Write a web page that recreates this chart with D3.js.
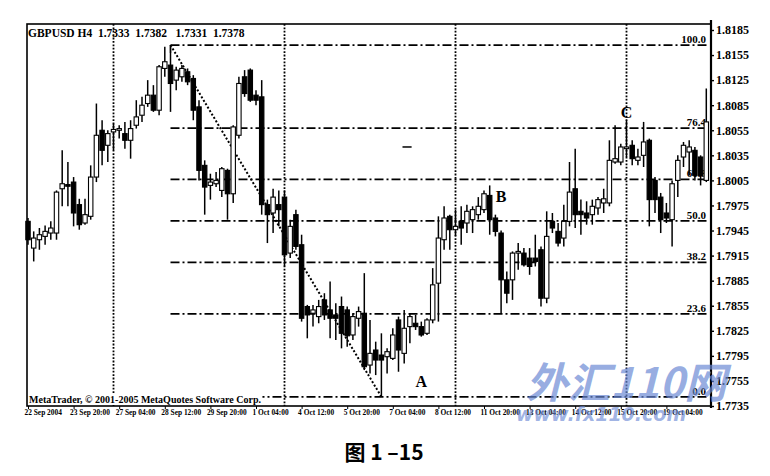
<!DOCTYPE html>
<html><head><meta charset="utf-8">
<script src="https://cdn.jsdelivr.net/npm/d3@7"></script>
<style>body{margin:0;background:#fff}svg{display:block}</style>
</head><body>
<svg id="c" width="770" height="476"></svg>
<script>
// ---- data ----
const title = "GBPUSD H4  1.7333  1.7382   1.7331  1.7378";
const opens  = [1.7956,1.7924,1.7934,1.7938,1.7942,1.7942,1.7995,1.8000,1.8003,1.7976,1.7954,1.7962,1.8009,1.8065,1.8047,1.8063,1.8065,1.8061,1.8053,1.8071,1.8083,1.8097,1.8107,1.8089,1.8139,1.8143,1.8125,1.8129,1.8135,1.8127,1.8093,1.8023,1.7999,1.8001,1.7993,1.8017,1.7989,1.8059,1.8129,1.8137,1.8107,1.8105,1.7976,1.7966,1.7976,1.7985,1.7918,1.7964,1.7928,1.7854,1.7846,1.7842,1.7862,1.7850,1.7844,1.7854,1.7850,1.7820,1.7840,1.7846,1.7784,1.7802,1.7796,1.7794,1.7792,1.7838,1.7798,1.7830,1.7834,1.7830,1.7822,1.7838,1.7882,1.7934,1.7962,1.7946,1.7956,1.7954,1.7958,1.7964,1.7970,1.7987,1.7960,1.7942,1.7886,1.7886,1.7918,1.7918,1.7912,1.7912,1.7922,1.7864,1.7956,1.7944,1.7936,1.7956,1.7995,1.7968,1.7966,1.7964,1.7972,1.7978,1.7978,1.8027,1.8027,1.8043,1.8047,1.8029,1.8035,1.8053,1.8005,1.7985,1.7966,1.7958,1.8005,1.8033,1.8039,1.8041,1.8033,1.8005];
const highs  = [1.7960,1.7944,1.7948,1.7951,1.7956,1.7993,1.8041,1.8027,1.8009,1.7983,1.7983,1.8023,1.8097,1.8077,1.8065,1.8073,1.8071,1.8075,1.8077,1.8101,1.8105,1.8125,1.8119,1.8143,1.8165,1.8167,1.8141,1.8143,1.8139,1.8131,1.8101,1.8029,1.8013,1.8015,1.8021,1.8019,1.8071,1.8129,1.8137,1.8139,1.8113,1.8125,1.7982,1.7995,1.7993,1.7993,1.7958,1.7970,1.7940,1.7856,1.7856,1.7862,1.7870,1.7884,1.7858,1.7866,1.7854,1.7846,1.7854,1.7894,1.7838,1.7812,1.7822,1.7804,1.7828,1.7842,1.7850,1.7846,1.7844,1.7836,1.7840,1.7900,1.7962,1.7974,1.7964,1.7970,1.7974,1.7976,1.7974,1.7985,1.7993,1.7999,1.7964,1.7945,1.7896,1.7920,1.7930,1.7924,1.7924,1.7940,1.7926,1.7968,1.7966,1.7954,1.7976,1.8027,1.8043,1.7982,1.7980,1.7982,1.7985,1.7995,1.8053,1.8071,1.8049,1.8077,1.8053,1.8043,1.8075,1.8055,1.8009,1.7990,1.7978,1.8005,1.8035,1.8051,1.8053,1.8045,1.8035,1.8115];
const lows   = [1.7928,1.7908,1.7922,1.7928,1.7934,1.7934,1.7974,1.7974,1.7950,1.7946,1.7952,1.7958,1.8003,1.8023,1.8027,1.8041,1.8055,1.8043,1.8031,1.8067,1.8075,1.8093,1.8087,1.8083,1.8129,1.8087,1.8113,1.8123,1.8119,1.8077,1.8005,1.7964,1.7982,1.7997,1.7985,1.7958,1.7978,1.8055,1.8105,1.8099,1.8095,1.7964,1.7930,1.7942,1.7950,1.7902,1.7912,1.7922,1.7836,1.7816,1.7830,1.7834,1.7838,1.7816,1.7814,1.7804,1.7806,1.7814,1.7830,1.7778,1.7774,1.7772,1.7746,1.7774,1.7790,1.7776,1.7786,1.7810,1.7826,1.7818,1.7820,1.7834,1.7836,1.7922,1.7922,1.7938,1.7928,1.7942,1.7942,1.7958,1.7966,1.7940,1.7938,1.7846,1.7858,1.7862,1.7898,1.7902,1.7892,1.7902,1.7854,1.7858,1.7942,1.7926,1.7926,1.7950,1.7948,1.7940,1.7952,1.7952,1.7964,1.7966,1.7974,1.8025,1.8023,1.8033,1.8023,1.8023,1.8021,1.7950,1.7966,1.7942,1.7954,1.7926,1.7985,1.8021,1.8011,1.8005,1.7999,1.8003];
const closes = [1.7934,1.7936,1.7940,1.7944,1.7948,1.7991,1.8001,1.7998,1.7966,1.7952,1.7964,1.8009,1.8059,1.8041,1.8061,1.8066,1.8067,1.8053,1.8067,1.8081,1.8095,1.8107,1.8089,1.8141,1.8147,1.8121,1.8137,1.8139,1.8123,1.8089,1.8017,1.7997,1.8003,1.8005,1.8019,1.7989,1.8069,1.8121,1.8109,1.8101,1.8101,1.7976,1.7964,1.7985,1.7970,1.7916,1.7950,1.7926,1.7840,1.7844,1.7850,1.7854,1.7844,1.7840,1.7840,1.7822,1.7819,1.7842,1.7848,1.7782,1.7798,1.7790,1.7790,1.7800,1.7820,1.7802,1.7828,1.7842,1.7830,1.7820,1.7838,1.7880,1.7936,1.7960,1.7946,1.7950,1.7948,1.7968,1.7970,1.7974,1.7989,1.7958,1.7944,1.7886,1.7870,1.7918,1.7920,1.7904,1.7902,1.7908,1.7864,1.7938,1.7948,1.7930,1.7956,1.7991,1.7964,1.7964,1.7960,1.7974,1.7982,1.7983,1.8029,1.8031,1.8045,1.8045,1.8031,1.8033,1.8051,1.7982,1.7982,1.7958,1.7960,1.8001,1.8029,1.8047,1.8045,1.8011,1.8011,1.8075];
const timeLabels = ["22 Sep 2004","23 Sep 20:00","27 Sep 04:00","28 Sep 12:00","29 Sep 20:00","1 Oct 04:00","4 Oct 12:00","5 Oct 20:00","7 Oct 04:00","8 Oct 12:00","11 Oct 20:00","13 Oct 04:00","14 Oct 12:00","15 Oct 20:00","19 Oct 04:00"];
const timeLabelBars = [0,8,16,24,32,40,48,56,64,72,80,88,96,104,112];
const priceTickValues = [1.8185,1.8155,1.8125,1.8095,1.8065,1.8035,1.8005,1.7975,1.7945,1.7915,1.7885,1.7855,1.7825,1.7795,1.7765,1.7735];
const priceTickLabels = ["1.8185","1.8155","1.8125","1.8085","1.8055","1.8035","1.8005","1.7975","1.7945","1.7915","1.7885","1.7855","1.7825","1.7795","1.7755","1.7735"];
const separatorBars = [15,45,75,105];
const fibHigh = 1.8167, fibLow = 1.7746, fibStartBar = 25, fibLowBar = 62;
const fibLevels = [100.0, 76.4, 61.8, 50.0, 38.2, 23.6, 0.0];
const pointNames = ["A","B","C"];
const pointBars = [69, 83, 105];
const pointPrices = [1.7765, 1.7986, 1.8087];
const copyright = "MetaTrader, © 2001-2005 MetaQuotes Software Corp.";
const caption = "图 1 –15";

// ---- layout ----
const L = 27, R = 711, T = 24, B = 406;
const svg = d3.select("#c");
const x = d3.scaleLinear().domain([0, opens.length - 1]).range([28, 706.3]);
const y = d3.scaleLinear().domain([1.7735, 1.8185]).range([406, 30]);
const serif = "'Liberation Serif','DejaVu Serif',serif";

// separators
svg.append("g").selectAll("line").data(separatorBars).join("line")
  .attr("x1", d => x(d)).attr("x2", d => x(d)).attr("y1", T).attr("y2", B)
  .attr("stroke", "#000").attr("stroke-width", 1.8).attr("stroke-dasharray", "1.8,1.6");

// fib levels
const fibPrice = lv => fibLow + (fibHigh - fibLow) * lv / 100;
const fg = svg.append("g");
fg.selectAll("line").data(fibLevels).join("line")
  .attr("x1", x(fibStartBar)).attr("x2", R - 2)
  .attr("y1", d => y(fibPrice(d))).attr("y2", d => y(fibPrice(d)))
  .attr("stroke", "#000").attr("stroke-width", 1.7).attr("stroke-dasharray", "9,3,2,3");
fg.append("line").attr("x1", x(fibStartBar)).attr("x2", x(fibStartBar))
  .attr("y1", y(fibHigh)).attr("y2", y(fibHigh) + 8).attr("stroke", "#000").attr("stroke-width", 1.4);
fg.selectAll("text").data(fibLevels).join("text")
  .attr("x", R - 5).attr("y", d => y(fibPrice(d)) - 2)
  .attr("text-anchor", "end").attr("font-family", serif).attr("font-size", 11)
  .attr("font-weight", "bold").text(d => d.toFixed(1));

// trend line
svg.append("line").attr("x1", x(fibStartBar)).attr("y1", y(fibHigh))
  .attr("x2", x(fibLowBar)).attr("y2", y(fibLow))
  .attr("stroke", "#000").attr("stroke-width", 2).attr("stroke-dasharray", "2,2");

// candles
const idx = d3.range(opens.length);
const cg = svg.append("g");
cg.selectAll("line").data(idx).join("line")
  .attr("x1", i => x(i)).attr("x2", i => x(i))
  .attr("y1", i => y(highs[i])).attr("y2", i => y(lows[i]))
  .attr("stroke", "#000").attr("stroke-width", 1.5);
cg.selectAll("rect").data(idx).join("rect")
  .attr("x", i => x(i) - 2.2).attr("width", 4.4)
  .attr("y", i => y(Math.max(opens[i], closes[i])))
  .attr("height", i => Math.max(1.2, Math.abs(y(opens[i]) - y(closes[i]))))
  .attr("fill", i => closes[i] >= opens[i] ? "#fff" : "#000")
  .attr("stroke", "#000").attr("stroke-width", 1.1);

// small mark
svg.append("line").attr("x1", x(65.7)).attr("x2", x(67.3)).attr("y1", y(1.8045)).attr("y2", y(1.8045))
  .attr("stroke", "#000").attr("stroke-width", 1.5);

// frame
svg.append("rect").attr("x", L).attr("y", T).attr("width", R - L).attr("height", B - T)
  .attr("fill", "none").attr("stroke", "#000").attr("stroke-width", 1.6);
svg.append("line").attr("x1", R).attr("x2", R).attr("y1", T - 4).attr("y2", B + 2)
  .attr("stroke", "#000").attr("stroke-width", 2.2);

// y axis
const ya = d3.axisRight(y).tickValues(priceTickValues).tickSize(3).tickPadding(2)
  .tickFormat((d, i) => priceTickLabels[i]);
const yg = svg.append("g").attr("transform", `translate(${R},0)`).call(ya);
yg.select(".domain").remove();
yg.selectAll("text").attr("font-family", serif).attr("font-size", 12).attr("font-weight", "bold").attr("fill", "#000");
yg.selectAll("line").attr("stroke-width", 1.4);

// x axis
const xa = d3.axisBottom(x).tickValues(timeLabelBars).tickSize(3).tickPadding(1)
  .tickFormat((d, i) => timeLabels[i]);
const xg = svg.append("g").attr("transform", `translate(0,${B})`).call(xa);
xg.select(".domain").remove();
xg.selectAll("text").attr("font-family", serif).attr("font-size", 7.4).attr("font-weight", "bold")
  .attr("text-anchor", "start").attr("dx", -4).attr("fill", "#000");

// title
svg.append("text").attr("x", 28).attr("y", 37).attr("font-family", serif).attr("font-size", 11.5)
  .attr("font-weight", "bold").style("white-space", "pre").text(title);

// copyright with white background
const cpg = svg.append("g");
const cpr = cpg.append("rect").attr("fill", "#fff");
const ct = cpg.append("text").attr("x", 29).attr("y", 403).attr("font-family", serif)
  .attr("font-size", 10).attr("font-weight", "bold").text(copyright);
const bb = ct.node().getBBox();
cpr.attr("x", bb.x - 1).attr("y", bb.y).attr("width", bb.width + 2).attr("height", bb.height);

// A B C
svg.append("g").selectAll("text").data(pointNames).join("text")
  .attr("x", (d, i) => x(pointBars[i])).attr("y", (d, i) => y(pointPrices[i]) + 6)
  .attr("text-anchor", "middle").attr("font-family", serif).attr("font-size", 16)
  .attr("font-weight", "bold").text(d => d);

// watermark
svg.append("text").attr("x", 526).attr("y", 398).attr("font-family", "'Noto Sans CJK SC',sans-serif")
  .attr("font-size", 42).attr("font-weight", "bold").attr("font-style", "italic")
  .attr("fill", "#6a88d4").attr("fill-opacity", 0.7).text("外汇110网");
svg.append("text").attr("x", 516).attr("y", 421).attr("font-family", "'DejaVu Sans',sans-serif")
  .attr("font-size", 19).attr("font-weight", "bold").attr("font-style", "italic")
  .attr("fill", "#6a88d4").attr("fill-opacity", 0.65).text("www.fx110.com");

// caption
svg.append("text").attr("x", 384).attr("y", 460).attr("text-anchor", "middle")
  .attr("font-family", "'Noto Sans CJK SC',serif").attr("font-size", 21).attr("font-weight", "bold").text(caption);
</script>
</body></html>
